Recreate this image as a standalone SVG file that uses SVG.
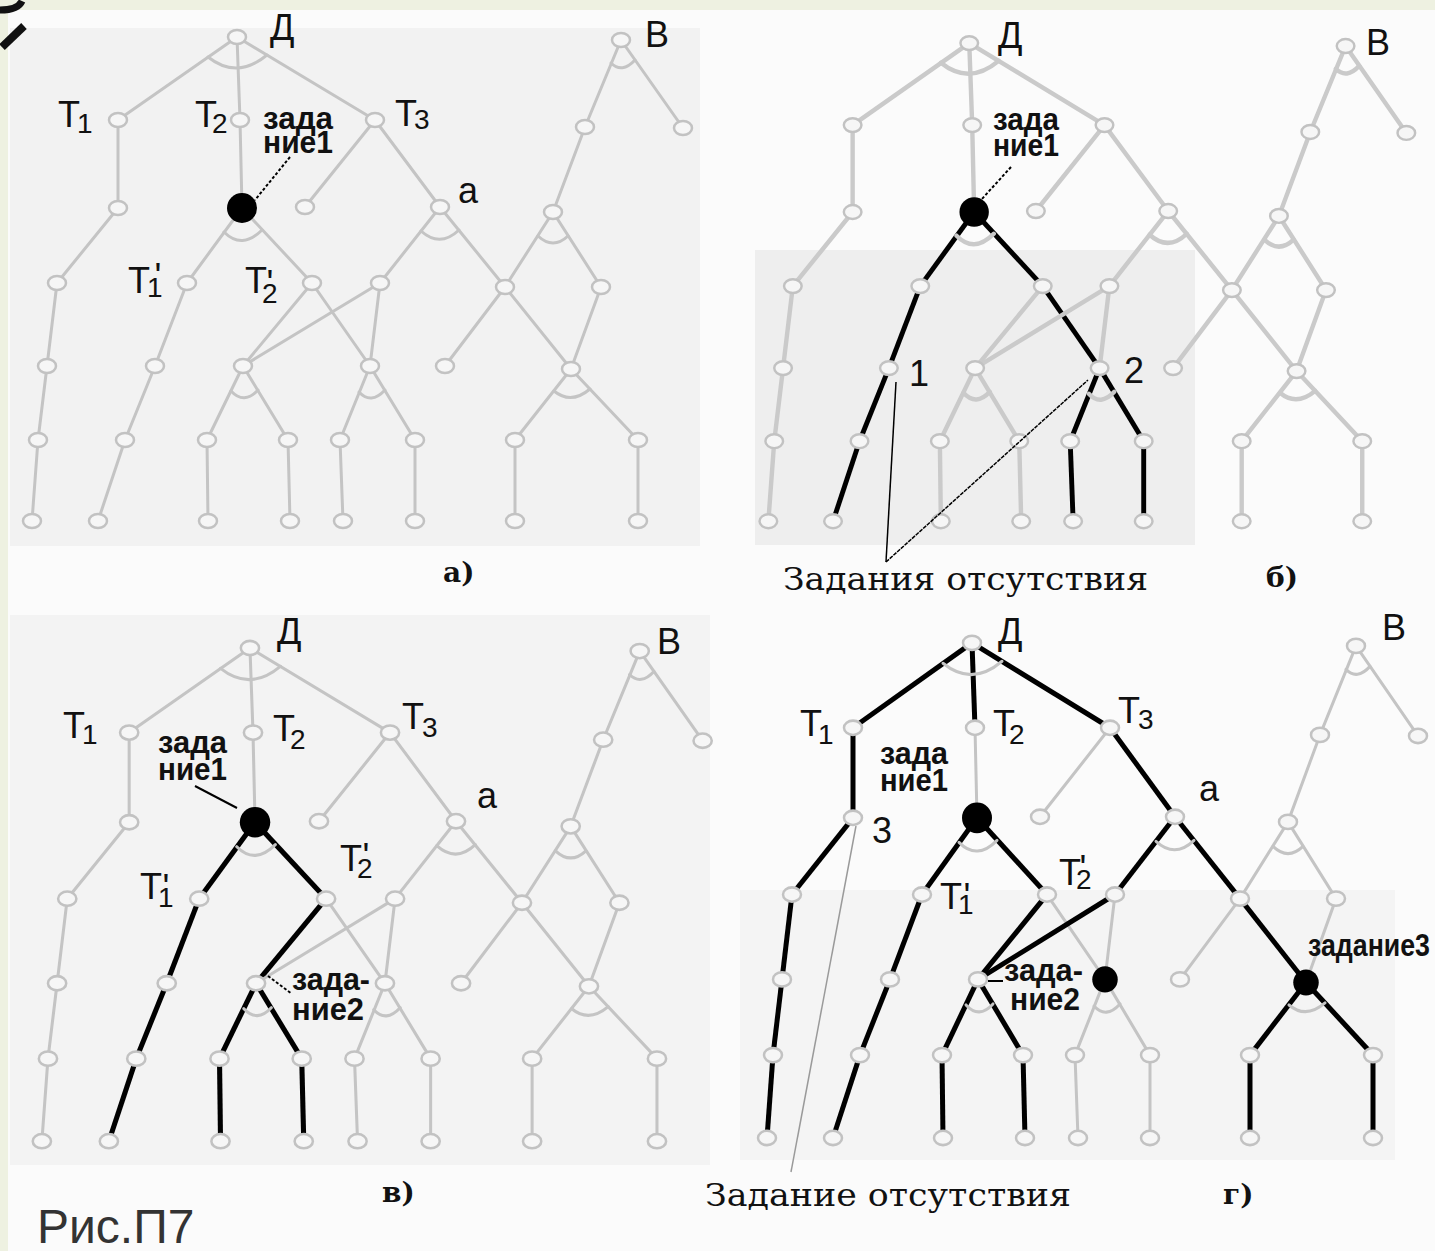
<svg xmlns="http://www.w3.org/2000/svg" width="1435" height="1251" viewBox="0 0 1435 1251">
<style>
.e{stroke:#c4c4c4;stroke-width:3;fill:none;stroke-linecap:round}
.k{stroke:#000;stroke-width:5;fill:none;stroke-linecap:butt}
#pb .e{stroke:#cacaca;stroke-width:4.5}
.ptr{stroke:#000;stroke-width:2;fill:none;stroke-dasharray:3 2}
.lb{font-family:"Liberation Sans","DejaVu Sans",sans-serif;font-size:36px;fill:#111}
.sub{font-size:28px}
.zd{font-family:"Liberation Sans","DejaVu Sans",sans-serif;font-weight:bold;font-size:31px;fill:#111}
.mono{font-family:"DejaVu Serif","Liberation Serif",serif;font-size:32px;fill:#111}
.cap{font-family:"DejaVu Serif","Liberation Serif",serif;font-weight:bold;font-size:28px;fill:#111}
</style>
<defs>
<ellipse id="nd" cx="0" cy="0" rx="9" ry="7" fill="#f6f6f6" stroke="#c2c2c2" stroke-width="2.5"/>
<circle id="bk" cx="0" cy="0" r="15" fill="#000"/>
</defs>

<rect x="0" y="0" width="1435" height="1251" fill="#fbfbfb"/>
<rect x="10" y="28" width="690" height="518" fill="#f2f2f2"/>
<rect x="755" y="250" width="440" height="295" fill="#eeeeee"/>
<rect x="10" y="615" width="700" height="550" fill="#f3f3f3"/>
<rect x="740" y="890" width="655" height="270" fill="#f4f4f4"/>
<rect x="0" y="0" width="1435" height="10" fill="#eef1e1"/>
<rect x="0" y="0" width="8" height="1251" fill="#eef1e1"/>
<path d="M0,10 Q18,10 22,1" stroke="#111" stroke-width="7" fill="none"/>
<path d="M24,26 L2,47" stroke="#111" stroke-width="8" fill="none"/>

<!-- ===== Panel a ===== -->
<g id="pa">
<g id="a-connectors">
<line class="e" x1="237" y1="37" x2="118" y2="120"/><line class="e" x1="237" y1="37" x2="240" y2="120"/><line class="e" x1="237" y1="37" x2="375" y2="120"/>
<line class="e" x1="118" y1="120" x2="118" y2="208"/><line class="e" x1="240" y1="120" x2="242" y2="208"/><line class="e" x1="375" y1="120" x2="305" y2="207"/><line class="e" x1="375" y1="120" x2="440" y2="207"/>
<line class="e" x1="118" y1="208" x2="57" y2="283"/><line class="e" x1="242" y1="208" x2="187" y2="283"/><line class="e" x1="242" y1="208" x2="312" y2="283"/>
<line class="e" x1="440" y1="207" x2="380" y2="283"/><line class="e" x1="440" y1="207" x2="505" y2="287"/>
<line class="e" x1="621" y1="40" x2="585" y2="127"/><line class="e" x1="621" y1="40" x2="683" y2="128"/><line class="e" x1="585" y1="127" x2="553" y2="212"/>
<line class="e" x1="553" y1="212" x2="505" y2="287"/><line class="e" x1="553" y1="212" x2="601" y2="287"/>
<line class="e" x1="57" y1="283" x2="47" y2="366"/><line class="e" x1="187" y1="283" x2="155" y2="366"/>
<line class="e" x1="312" y1="283" x2="243" y2="366"/><line class="e" x1="312" y1="283" x2="370" y2="366"/>
<line class="e" x1="380" y1="283" x2="243" y2="366"/><line class="e" x1="380" y1="283" x2="370" y2="366"/>
<line class="e" x1="505" y1="287" x2="445" y2="366"/><line class="e" x1="505" y1="287" x2="571" y2="369"/><line class="e" x1="601" y1="287" x2="571" y2="369"/>
<line class="e" x1="47" y1="366" x2="38" y2="440"/><line class="e" x1="155" y1="366" x2="125" y2="440"/>
<line class="e" x1="243" y1="366" x2="207" y2="440"/><line class="e" x1="243" y1="366" x2="288" y2="440"/>
<line class="e" x1="370" y1="366" x2="340" y2="440"/><line class="e" x1="370" y1="366" x2="415" y2="440"/>
<line class="e" x1="571" y1="369" x2="515" y2="440"/><line class="e" x1="571" y1="369" x2="638" y2="440"/>
<line class="e" x1="38" y1="440" x2="32" y2="521"/><line class="e" x1="125" y1="440" x2="98" y2="521"/><line class="e" x1="207" y1="440" x2="208" y2="521"/><line class="e" x1="288" y1="440" x2="290" y2="521"/>
<line class="e" x1="340" y1="440" x2="343" y2="521"/><line class="e" x1="415" y1="440" x2="415" y2="521"/><line class="e" x1="515" y1="440" x2="515" y2="521"/><line class="e" x1="638" y1="440" x2="638" y2="521"/>
<path class="e" d="M208,57 Q237,80 267,55"/><path class="e" d="M224,232 Q242,250 262,230"/><path class="e" d="M421,231 Q440,248 459,230"/><path class="e" d="M611,63 Q622,74 635,60"/>
<path class="e" d="M538,236 Q553,250 568,236"/><path class="e" d="M231,391 Q244,405 258,390"/><path class="e" d="M359,392 Q371,405 385,390"/><path class="e" d="M554,391 Q571,405 590,389"/>
<line class="ptr" x1="290" y1="157" x2="255" y2="200"/>
</g>
<g id="a-A"><use href="#nd" x="237" y="37"/></g><g id="a-T1"><use href="#nd" x="118" y="120"/></g><g id="a-T2"><use href="#nd" x="240" y="120"/></g><g id="a-T3"><use href="#nd" x="375" y="120"/></g>
<g id="a-N1"><use href="#nd" x="118" y="208"/></g><g id="a-K"><use href="#bk" x="242" y="208"/></g><g id="a-N3"><use href="#nd" x="305" y="207"/></g><g id="a-a"><use href="#nd" x="440" y="207"/></g>
<g id="a-P1"><use href="#nd" x="57" y="283"/></g><g id="a-T1p"><use href="#nd" x="187" y="283"/></g><g id="a-T2p"><use href="#nd" x="312" y="283"/></g><g id="a-Q"><use href="#nd" x="380" y="283"/></g>
<g id="a-R"><use href="#nd" x="505" y="287"/></g><g id="a-S"><use href="#nd" x="601" y="287"/></g><g id="a-B"><use href="#nd" x="621" y="40"/></g><g id="a-B1"><use href="#nd" x="585" y="127"/></g>
<g id="a-B2"><use href="#nd" x="683" y="128"/></g><g id="a-B3"><use href="#nd" x="553" y="212"/></g>
<g id="a-C1"><use href="#nd" x="47" y="366"/></g><g id="a-C2"><use href="#nd" x="155" y="366"/></g><g id="a-D1"><use href="#nd" x="243" y="366"/></g><g id="a-D2"><use href="#nd" x="370" y="366"/></g>
<g id="a-E1"><use href="#nd" x="445" y="366"/></g><g id="a-E2"><use href="#nd" x="571" y="369"/></g>
<g id="a-F1"><use href="#nd" x="38" y="440"/></g><g id="a-F2"><use href="#nd" x="125" y="440"/></g><g id="a-F3"><use href="#nd" x="207" y="440"/></g><g id="a-F4"><use href="#nd" x="288" y="440"/></g>
<g id="a-F5"><use href="#nd" x="340" y="440"/></g><g id="a-F6"><use href="#nd" x="415" y="440"/></g><g id="a-F7"><use href="#nd" x="515" y="440"/></g><g id="a-F8"><use href="#nd" x="638" y="440"/></g>
<g id="a-G1"><use href="#nd" x="32" y="521"/></g><g id="a-G2"><use href="#nd" x="98" y="521"/></g><g id="a-G3"><use href="#nd" x="208" y="521"/></g><g id="a-G4"><use href="#nd" x="290" y="521"/></g>
<g id="a-G5"><use href="#nd" x="343" y="521"/></g><g id="a-G6"><use href="#nd" x="415" y="521"/></g><g id="a-G7"><use href="#nd" x="515" y="521"/></g><g id="a-G8"><use href="#nd" x="638" y="521"/></g>
</g>
<g id="a-labels">
<text class="lb" x="270" y="40">Д</text>
<text class="lb" x="645" y="47">В</text>
<text class="lb" x="58" y="127">T<tspan class="sub" dx="-3" dy="6">1</tspan></text>
<text class="lb" x="195" y="127">T<tspan class="sub" dx="-5" dy="6">2</tspan></text>
<text class="lb" x="395" y="126">T<tspan class="sub" dx="-3" dy="3">3</tspan></text>
<text class="zd" x="263" y="129" textLength="70" lengthAdjust="spacingAndGlyphs">зада</text>
<text class="zd" x="263" y="153" textLength="70" lengthAdjust="spacingAndGlyphs">ние1</text>
<text class="lb" x="458" y="203">а</text>
<text class="lb" x="128" y="293">T<tspan class="sub" dx="-3" dy="4">1</tspan><tspan dx="-8" dy="-8">'</tspan></text>
<text class="lb" x="245" y="293">T<tspan class="sub" dx="-5" dy="10">2</tspan><tspan dx="-11" dy="-7">'</tspan></text>
<text class="cap" x="443" y="582">а)</text>
</g>

<!-- ===== Panel б ===== -->
<g id="pb" transform="translate(737,6.5) scale(0.98,0.988)">
<g id="b-connectors">
<line class="e" x1="237" y1="37" x2="118" y2="120"/><line class="e" x1="237" y1="37" x2="240" y2="120"/><line class="e" x1="237" y1="37" x2="375" y2="120"/>
<line class="e" x1="118" y1="120" x2="118" y2="208"/><line class="e" x1="240" y1="120" x2="242" y2="208"/><line class="e" x1="375" y1="120" x2="305" y2="207"/><line class="e" x1="375" y1="120" x2="440" y2="207"/>
<line class="e" x1="118" y1="208" x2="57" y2="283"/><line class="k" x1="242" y1="208" x2="187" y2="283"/><line class="k" x1="242" y1="208" x2="312" y2="283"/>
<line class="e" x1="440" y1="207" x2="380" y2="283"/><line class="e" x1="440" y1="207" x2="505" y2="287"/>
<line class="e" x1="621" y1="40" x2="585" y2="127"/><line class="e" x1="621" y1="40" x2="683" y2="128"/><line class="e" x1="585" y1="127" x2="553" y2="212"/>
<line class="e" x1="553" y1="212" x2="505" y2="287"/><line class="e" x1="553" y1="212" x2="601" y2="287"/>
<line class="e" x1="57" y1="283" x2="47" y2="366"/><line class="k" x1="187" y1="283" x2="155" y2="366"/>
<line class="e" x1="312" y1="283" x2="243" y2="366"/><line class="k" x1="312" y1="283" x2="370" y2="366"/>
<line class="e" x1="380" y1="283" x2="243" y2="366"/><line class="e" x1="380" y1="283" x2="370" y2="366"/>
<line class="e" x1="505" y1="287" x2="445" y2="366"/><line class="e" x1="505" y1="287" x2="571" y2="369"/><line class="e" x1="601" y1="287" x2="571" y2="369"/>
<line class="e" x1="47" y1="366" x2="38" y2="440"/><line class="k" x1="155" y1="366" x2="125" y2="440"/>
<line class="e" x1="243" y1="366" x2="207" y2="440"/><line class="e" x1="243" y1="366" x2="288" y2="440"/>
<line class="k" x1="370" y1="366" x2="340" y2="440"/><line class="k" x1="370" y1="366" x2="415" y2="440"/>
<line class="e" x1="571" y1="369" x2="515" y2="440"/><line class="e" x1="571" y1="369" x2="638" y2="440"/>
<line class="e" x1="38" y1="440" x2="32" y2="521"/><line class="k" x1="125" y1="440" x2="98" y2="521"/><line class="e" x1="207" y1="440" x2="208" y2="521"/><line class="e" x1="288" y1="440" x2="290" y2="521"/>
<line class="k" x1="340" y1="440" x2="343" y2="521"/><line class="k" x1="415" y1="440" x2="415" y2="521"/><line class="e" x1="515" y1="440" x2="515" y2="521"/><line class="e" x1="638" y1="440" x2="638" y2="521"/>
<path class="e" d="M208,57 Q237,80 267,55"/><path class="e" d="M224,232 Q242,250 262,230"/><path class="e" d="M421,231 Q440,248 459,230"/><path class="e" d="M611,63 Q622,74 635,60"/>
<path class="e" d="M538,236 Q553,250 568,236"/><path class="e" d="M231,391 Q244,405 258,390"/><path class="e" d="M359,392 Q371,405 385,390"/><path class="e" d="M554,391 Q571,405 590,389"/>
</g>
<g id="b-A"><use href="#nd" x="237" y="37"/></g><g id="b-T1"><use href="#nd" x="118" y="120"/></g><g id="b-T2"><use href="#nd" x="240" y="120"/></g><g id="b-T3"><use href="#nd" x="375" y="120"/></g>
<g id="b-N1"><use href="#nd" x="118" y="208"/></g><g id="b-K"><use href="#bk" x="242" y="208"/></g><g id="b-N3"><use href="#nd" x="305" y="207"/></g><g id="b-a"><use href="#nd" x="440" y="207"/></g>
<g id="b-P1"><use href="#nd" x="57" y="283"/></g><g id="b-T1p"><use href="#nd" x="187" y="283"/></g><g id="b-T2p"><use href="#nd" x="312" y="283"/></g><g id="b-Q"><use href="#nd" x="380" y="283"/></g>
<g id="b-R"><use href="#nd" x="505" y="287"/></g><g id="b-S"><use href="#nd" x="601" y="287"/></g><g id="b-B"><use href="#nd" x="621" y="40"/></g><g id="b-B1"><use href="#nd" x="585" y="127"/></g>
<g id="b-B2"><use href="#nd" x="683" y="128"/></g><g id="b-B3"><use href="#nd" x="553" y="212"/></g>
<g id="b-C1"><use href="#nd" x="47" y="366"/></g><g id="b-C2"><use href="#nd" x="155" y="366"/></g><g id="b-D1"><use href="#nd" x="243" y="366"/></g><g id="b-D2"><use href="#nd" x="370" y="366"/></g>
<g id="b-E1"><use href="#nd" x="445" y="366"/></g><g id="b-E2"><use href="#nd" x="571" y="369"/></g>
<g id="b-F1"><use href="#nd" x="38" y="440"/></g><g id="b-F2"><use href="#nd" x="125" y="440"/></g><g id="b-F3"><use href="#nd" x="207" y="440"/></g><g id="b-F4"><use href="#nd" x="288" y="440"/></g>
<g id="b-F5"><use href="#nd" x="340" y="440"/></g><g id="b-F6"><use href="#nd" x="415" y="440"/></g><g id="b-F7"><use href="#nd" x="515" y="440"/></g><g id="b-F8"><use href="#nd" x="638" y="440"/></g>
<g id="b-G1"><use href="#nd" x="32" y="521"/></g><g id="b-G2"><use href="#nd" x="98" y="521"/></g><g id="b-G3"><use href="#nd" x="208" y="521"/></g><g id="b-G4"><use href="#nd" x="290" y="521"/></g>
<g id="b-G5"><use href="#nd" x="343" y="521"/></g><g id="b-G6"><use href="#nd" x="415" y="521"/></g><g id="b-G7"><use href="#nd" x="515" y="521"/></g><g id="b-G8"><use href="#nd" x="638" y="521"/></g>
</g>
<g id="b-labels">
<text class="lb" x="998" y="48">Д</text>
<text class="lb" x="1366" y="55">В</text>
<text class="zd" x="993" y="130" textLength="66" lengthAdjust="spacingAndGlyphs">зада</text>
<text class="zd" x="993" y="156" textLength="66" lengthAdjust="spacingAndGlyphs">ние1</text>
<line class="ptr" x1="1011" y1="167" x2="981" y2="200"/>
<text class="lb" x="909" y="386">1</text>
<text class="lb" x="1124" y="383">2</text>
<line x1="886" y1="562" x2="896" y2="382" stroke="#000" stroke-width="1.5"/>
<line x1="886" y1="562" x2="1088" y2="380" stroke="#000" stroke-width="1.5" stroke-dasharray="4 1"/>
<text class="mono" x="783" y="590" textLength="365" lengthAdjust="spacingAndGlyphs">Задания отсутствия</text>
<text class="cap" x="1266" y="587">б)</text>
</g>

<!-- ===== Panel в ===== -->
<g id="pv" transform="translate(9.4,610.3) scale(1.015,1.019)">
<g id="v-connectors">
<line class="e" x1="237" y1="37" x2="118" y2="120"/><line class="e" x1="237" y1="37" x2="240" y2="120"/><line class="e" x1="237" y1="37" x2="375" y2="120"/>
<line class="e" x1="118" y1="120" x2="118" y2="208"/><line class="e" x1="240" y1="120" x2="242" y2="208"/><line class="e" x1="375" y1="120" x2="305" y2="207"/><line class="e" x1="375" y1="120" x2="440" y2="207"/>
<line class="e" x1="118" y1="208" x2="57" y2="283"/><line class="k" x1="242" y1="208" x2="187" y2="283"/><line class="k" x1="242" y1="208" x2="312" y2="283"/>
<line class="e" x1="440" y1="207" x2="380" y2="283"/><line class="e" x1="440" y1="207" x2="505" y2="287"/>
<line class="e" x1="621" y1="40" x2="585" y2="127"/><line class="e" x1="621" y1="40" x2="683" y2="128"/><line class="e" x1="585" y1="127" x2="553" y2="212"/>
<line class="e" x1="553" y1="212" x2="505" y2="287"/><line class="e" x1="553" y1="212" x2="601" y2="287"/>
<line class="e" x1="57" y1="283" x2="47" y2="366"/><line class="k" x1="187" y1="283" x2="155" y2="366"/>
<line class="k" x1="312" y1="283" x2="243" y2="366"/><line class="e" x1="312" y1="283" x2="370" y2="366"/>
<line class="e" x1="380" y1="283" x2="243" y2="366"/><line class="e" x1="380" y1="283" x2="370" y2="366"/>
<line class="e" x1="505" y1="287" x2="445" y2="366"/><line class="e" x1="505" y1="287" x2="571" y2="369"/><line class="e" x1="601" y1="287" x2="571" y2="369"/>
<line class="e" x1="47" y1="366" x2="38" y2="440"/><line class="k" x1="155" y1="366" x2="125" y2="440"/>
<line class="k" x1="243" y1="366" x2="207" y2="440"/><line class="k" x1="243" y1="366" x2="288" y2="440" stroke-width="3.5"/>
<line class="e" x1="370" y1="366" x2="340" y2="440"/><line class="e" x1="370" y1="366" x2="415" y2="440"/>
<line class="e" x1="571" y1="369" x2="515" y2="440"/><line class="e" x1="571" y1="369" x2="638" y2="440"/>
<line class="e" x1="38" y1="440" x2="32" y2="521"/><line class="k" x1="125" y1="440" x2="98" y2="521"/><line class="k" x1="207" y1="440" x2="208" y2="521"/><line class="k" x1="288" y1="440" x2="290" y2="521"/>
<line class="e" x1="340" y1="440" x2="343" y2="521"/><line class="e" x1="415" y1="440" x2="415" y2="521"/><line class="e" x1="515" y1="440" x2="515" y2="521"/><line class="e" x1="638" y1="440" x2="638" y2="521"/>
<path class="e" d="M208,57 Q237,80 267,55"/><path class="e" d="M224,232 Q242,250 262,230"/><path class="e" d="M421,231 Q440,248 459,230"/><path class="e" d="M611,63 Q622,74 635,60"/>
<path class="e" d="M538,236 Q553,250 568,236"/><path class="e" d="M231,391 Q244,405 258,390"/><path class="e" d="M359,392 Q371,405 385,390"/><path class="e" d="M554,391 Q571,405 590,389"/>
</g>
<g id="v-A"><use href="#nd" x="237" y="37"/></g><g id="v-T1"><use href="#nd" x="118" y="120"/></g><g id="v-T2"><use href="#nd" x="240" y="120"/></g><g id="v-T3"><use href="#nd" x="375" y="120"/></g>
<g id="v-N1"><use href="#nd" x="118" y="208"/></g><g id="v-K"><use href="#bk" x="242" y="208"/></g><g id="v-N3"><use href="#nd" x="305" y="207"/></g><g id="v-a"><use href="#nd" x="440" y="207"/></g>
<g id="v-P1"><use href="#nd" x="57" y="283"/></g><g id="v-T1p"><use href="#nd" x="187" y="283"/></g><g id="v-T2p"><use href="#nd" x="312" y="283"/></g><g id="v-Q"><use href="#nd" x="380" y="283"/></g>
<g id="v-R"><use href="#nd" x="505" y="287"/></g><g id="v-S"><use href="#nd" x="601" y="287"/></g><g id="v-B"><use href="#nd" x="621" y="40"/></g><g id="v-B1"><use href="#nd" x="585" y="127"/></g>
<g id="v-B2"><use href="#nd" x="683" y="128"/></g><g id="v-B3"><use href="#nd" x="553" y="212"/></g>
<g id="v-C1"><use href="#nd" x="47" y="366"/></g><g id="v-C2"><use href="#nd" x="155" y="366"/></g><g id="v-D1"><use href="#nd" x="243" y="366"/></g><g id="v-D2"><use href="#nd" x="370" y="366"/></g>
<g id="v-E1"><use href="#nd" x="445" y="366"/></g><g id="v-E2"><use href="#nd" x="571" y="369"/></g>
<g id="v-F1"><use href="#nd" x="38" y="440"/></g><g id="v-F2"><use href="#nd" x="125" y="440"/></g><g id="v-F3"><use href="#nd" x="207" y="440"/></g><g id="v-F4"><use href="#nd" x="288" y="440"/></g>
<g id="v-F5"><use href="#nd" x="340" y="440"/></g><g id="v-F6"><use href="#nd" x="415" y="440"/></g><g id="v-F7"><use href="#nd" x="515" y="440"/></g><g id="v-F8"><use href="#nd" x="638" y="440"/></g>
<g id="v-G1"><use href="#nd" x="32" y="521"/></g><g id="v-G2"><use href="#nd" x="98" y="521"/></g><g id="v-G3"><use href="#nd" x="208" y="521"/></g><g id="v-G4"><use href="#nd" x="290" y="521"/></g>
<g id="v-G5"><use href="#nd" x="343" y="521"/></g><g id="v-G6"><use href="#nd" x="415" y="521"/></g><g id="v-G7"><use href="#nd" x="515" y="521"/></g><g id="v-G8"><use href="#nd" x="638" y="521"/></g>
</g>
<g id="v-labels">
<text class="lb" x="277" y="644">Д</text>
<text class="lb" x="657" y="654">В</text>
<text class="lb" x="63" y="738">T<tspan class="sub" dx="-3" dy="6">1</tspan></text>
<text class="lb" x="273" y="741">T<tspan class="sub" dx="-5" dy="8">2</tspan></text>
<text class="lb" x="402" y="729">T<tspan class="sub" dx="-2" dy="8" font-size="22">3</tspan></text>
<text class="zd" x="158" y="753" textLength="69" lengthAdjust="spacingAndGlyphs">зада</text>
<text class="zd" x="158" y="780" textLength="69" lengthAdjust="spacingAndGlyphs">ние1</text>
<line x1="195" y1="786" x2="237" y2="808" stroke="#000" stroke-width="2"/>
<text class="lb" x="140" y="899">T<tspan class="sub" dx="-4" dy="8">1</tspan><tspan dx="-11" dy="-7">'</tspan></text>
<text class="lb" x="340" y="871">T<tspan class="sub" dx="-5" dy="7">2</tspan><tspan dx="-10" dy="-9">'</tspan></text>
<text class="lb" x="477" y="808">а</text>
<text class="zd" x="292" y="990" textLength="78" lengthAdjust="spacingAndGlyphs">зада-</text>
<text class="zd" x="292" y="1020" textLength="72" lengthAdjust="spacingAndGlyphs">ние2</text>
<line class="ptr" x1="268" y1="976" x2="292" y2="994"/>
<text class="cap" x="382" y="1202">в)</text>
<text x="37" y="1243" font-family="Liberation Sans, Arial, sans-serif" font-size="48" fill="#333">Рис.П7</text>
</g>

<!-- ===== Panel г ===== -->
<g id="pg" transform="translate(735,605) scale(1,1.023)">
<g id="g-connectors">
<line class="k" x1="237" y1="37" x2="118" y2="120"/><line class="k" x1="237" y1="37" x2="240" y2="120"/><line class="k" x1="237" y1="37" x2="375" y2="120"/>
<line class="k" x1="118" y1="120" x2="118" y2="208"/><line class="e" x1="240" y1="120" x2="242" y2="208"/><line class="e" x1="375" y1="120" x2="305" y2="207"/><line class="k" x1="375" y1="120" x2="440" y2="207" stroke-width="4"/>
<line class="k" x1="118" y1="208" x2="57" y2="283"/><line class="k" x1="242" y1="208" x2="187" y2="283"/><line class="k" x1="242" y1="208" x2="312" y2="283"/>
<line class="k" x1="440" y1="207" x2="380" y2="283" stroke-width="4"/><line class="k" x1="440" y1="207" x2="505" y2="287"/>
<line class="e" x1="621" y1="40" x2="585" y2="127"/><line class="e" x1="621" y1="40" x2="683" y2="128"/><line class="e" x1="585" y1="127" x2="553" y2="212"/>
<line class="e" x1="553" y1="212" x2="505" y2="287"/><line class="e" x1="553" y1="212" x2="601" y2="287"/>
<line class="k" x1="57" y1="283" x2="47" y2="366"/><line class="k" x1="187" y1="283" x2="155" y2="366"/>
<line class="k" x1="312" y1="283" x2="243" y2="366" stroke-width="4"/><line class="e" x1="312" y1="283" x2="370" y2="366"/>
<line class="k" x1="380" y1="283" x2="243" y2="366" stroke-width="6"/><line class="e" x1="380" y1="283" x2="370" y2="366"/>
<line class="e" x1="505" y1="287" x2="445" y2="366"/><line class="k" x1="505" y1="287" x2="571" y2="369"/><line class="e" x1="601" y1="287" x2="571" y2="369"/>
<line class="k" x1="47" y1="366" x2="38" y2="440"/><line class="k" x1="155" y1="366" x2="125" y2="440"/>
<line class="k" x1="243" y1="366" x2="207" y2="440"/><line class="k" x1="243" y1="366" x2="288" y2="440" stroke-width="3.5"/>
<line class="e" x1="370" y1="366" x2="340" y2="440"/><line class="e" x1="370" y1="366" x2="415" y2="440"/>
<line class="k" x1="571" y1="369" x2="515" y2="440"/><line class="k" x1="571" y1="369" x2="638" y2="440" stroke-width="4"/>
<line class="k" x1="38" y1="440" x2="32" y2="521"/><line class="k" x1="125" y1="440" x2="98" y2="521"/><line class="k" x1="207" y1="440" x2="208" y2="521"/><line class="k" x1="288" y1="440" x2="290" y2="521"/>
<line class="e" x1="340" y1="440" x2="343" y2="521"/><line class="e" x1="415" y1="440" x2="415" y2="521"/><line class="k" x1="515" y1="440" x2="515" y2="521"/><line class="k" x1="638" y1="440" x2="638" y2="521"/>
<path class="e" d="M208,57 Q237,80 267,55"/><path class="e" d="M224,232 Q242,250 262,230"/><path class="e" d="M421,231 Q440,248 459,230"/><path class="e" d="M611,63 Q622,74 635,60"/>
<path class="e" d="M538,236 Q553,250 568,236"/><path class="e" d="M231,391 Q244,405 258,390"/><path class="e" d="M359,392 Q371,405 385,390"/><path class="e" d="M554,391 Q571,405 590,389"/>
</g>
<g id="g-A"><use href="#nd" x="237" y="37"/></g><g id="g-T1"><use href="#nd" x="118" y="120"/></g><g id="g-T2"><use href="#nd" x="240" y="120"/></g><g id="g-T3"><use href="#nd" x="375" y="120"/></g>
<g id="g-N1"><use href="#nd" x="118" y="208"/></g><g id="g-K"><use href="#bk" x="242" y="208"/></g><g id="g-N3"><use href="#nd" x="305" y="207"/></g><g id="g-a"><use href="#nd" x="440" y="207"/></g>
<g id="g-P1"><use href="#nd" x="57" y="283"/></g><g id="g-T1p"><use href="#nd" x="187" y="283"/></g><g id="g-T2p"><use href="#nd" x="312" y="283"/></g><g id="g-Q"><use href="#nd" x="380" y="283"/></g>
<g id="g-R"><use href="#nd" x="505" y="287"/></g><g id="g-S"><use href="#nd" x="601" y="287"/></g><g id="g-B"><use href="#nd" x="621" y="40"/></g><g id="g-B1"><use href="#nd" x="585" y="127"/></g>
<g id="g-B2"><use href="#nd" x="683" y="128"/></g><g id="g-B3"><use href="#nd" x="553" y="212"/></g>
<g id="g-C1"><use href="#nd" x="47" y="366"/></g><g id="g-C2"><use href="#nd" x="155" y="366"/></g><g id="g-D1"><use href="#nd" x="243" y="366"/></g><g id="g-D2"><use href="#bk" x="370" y="366" transform="translate(370,366) scale(0.85) translate(-370,-366)"/></g>
<g id="g-E1"><use href="#nd" x="445" y="366"/></g><g id="g-E2"><use href="#bk" x="571" y="369" transform="translate(571,369) scale(0.85) translate(-571,-369)"/></g>
<g id="g-F1"><use href="#nd" x="38" y="440"/></g><g id="g-F2"><use href="#nd" x="125" y="440"/></g><g id="g-F3"><use href="#nd" x="207" y="440"/></g><g id="g-F4"><use href="#nd" x="288" y="440"/></g>
<g id="g-F5"><use href="#nd" x="340" y="440"/></g><g id="g-F6"><use href="#nd" x="415" y="440"/></g><g id="g-F7"><use href="#nd" x="515" y="440"/></g><g id="g-F8"><use href="#nd" x="638" y="440"/></g>
<g id="g-G1"><use href="#nd" x="32" y="521"/></g><g id="g-G2"><use href="#nd" x="98" y="521"/></g><g id="g-G3"><use href="#nd" x="208" y="521"/></g><g id="g-G4"><use href="#nd" x="290" y="521"/></g>
<g id="g-G5"><use href="#nd" x="343" y="521"/></g><g id="g-G6"><use href="#nd" x="415" y="521"/></g><g id="g-G7"><use href="#nd" x="515" y="521"/></g><g id="g-G8"><use href="#nd" x="638" y="521"/></g>
</g>
<g id="g-labels">
<text class="lb" x="998" y="644">Д</text>
<text class="lb" x="1382" y="640">В</text>
<text class="lb" x="800" y="736">T<tspan class="sub" dx="-4" dy="8">1</tspan></text>
<text class="lb" x="993" y="736">T<tspan class="sub" dx="-6" dy="8">2</tspan></text>
<text class="lb" x="1118" y="723">T<tspan class="sub" dx="-2" dy="6" font-size="22">3</tspan></text>
<text class="lb" x="1199" y="801" font-size="30">а</text>
<text class="zd" x="880" y="764" textLength="68" lengthAdjust="spacingAndGlyphs">зада</text>
<text class="zd" x="880" y="791" textLength="68" lengthAdjust="spacingAndGlyphs">ние1</text>
<text class="lb" x="872" y="843">3</text>
<text class="lb" x="940" y="909">T<tspan class="sub" dx="-4" dy="5">1</tspan><tspan dx="-10" dy="-5">'</tspan></text>
<text class="lb" x="1059" y="885">T<tspan class="sub" dx="-5" dy="4">2</tspan><tspan dx="-12" dy="-8">'</tspan></text>
<line x1="988" y1="981" x2="1003" y2="981" stroke="#000" stroke-width="2"/>
<text class="zd" x="1004" y="981" textLength="79" lengthAdjust="spacingAndGlyphs">зада-</text>
<text class="zd" x="1010" y="1010" textLength="70" lengthAdjust="spacingAndGlyphs">ние2</text>
<text class="zd" x="1308" y="956" textLength="122" lengthAdjust="spacingAndGlyphs">задание3</text>
<line x1="791" y1="1172" x2="856" y2="826" stroke="#9a9a9a" stroke-width="1.5"/>
<text class="mono" x="705" y="1206" textLength="366" lengthAdjust="spacingAndGlyphs">Задание отсутствия</text>
<text class="cap" x="1223" y="1204">г)</text>
</g>
</svg>
